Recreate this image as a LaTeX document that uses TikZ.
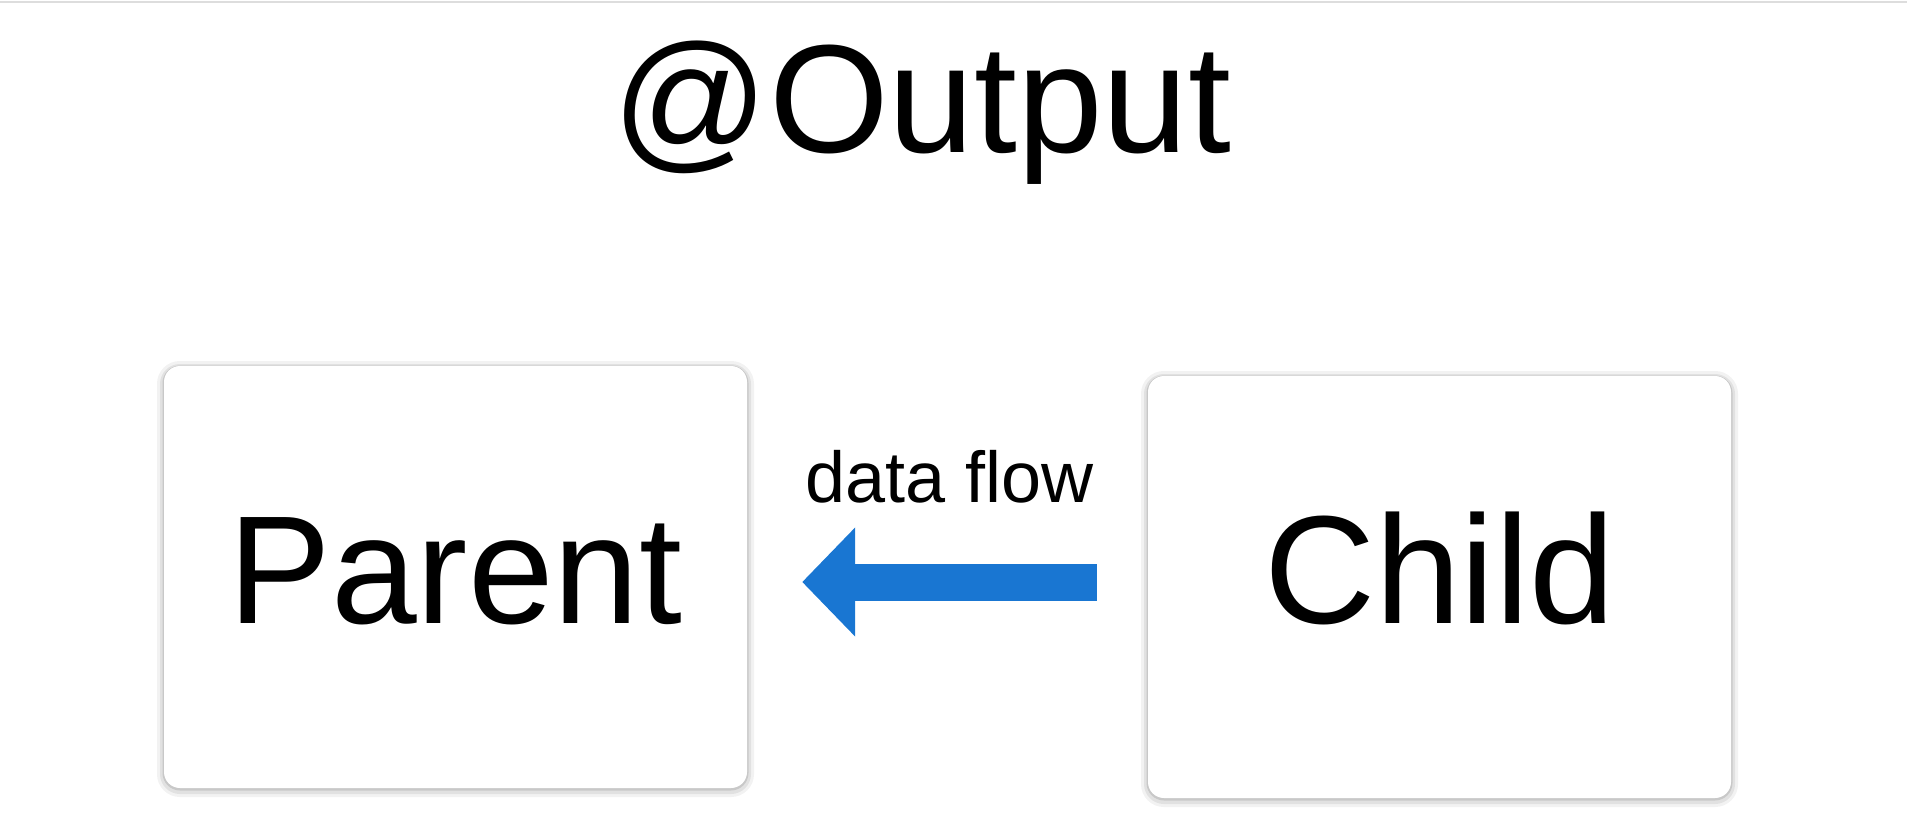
\documentclass[tikz,border=0pt]{standalone}
\usepackage{fontspec}
\setmainfont{Liberation Sans}
\usetikzlibrary{arrows.meta,positioning}
\definecolor{flowBlue}{HTML}{1976D2}
\definecolor{edgeGray}{HTML}{DDDDDD}

\begin{document}
\begin{tikzpicture}[
    x=1pt, y=-1pt,
    box/.style={fill=white, rounded corners=16pt, minimum width=583pt, minimum height=422pt, inner sep=0pt,
        font=\fontsize{154}{160}\selectfont, text depth=0pt,
        preaction={draw=black, opacity=0.05, line width=14pt, transform canvas={yshift=-2pt}},
        preaction={draw=black, opacity=0.07, line width=8pt, transform canvas={yshift=-2pt}},
        preaction={draw=black, opacity=0.11, line width=3pt, transform canvas={yshift=-1pt}}},
    flow/.style={-{Triangle[length=53pt, width=106pt]}, line width=37pt, draw=flowBlue},
]
\useasboundingbox (0,0) rectangle (1907,830);

% ===== page edge =====
\draw[edgeGray, line width=1.5pt] (0,2) -- (1907,2);

% ===== title =====
\node[font=\fontsize{154}{160}\selectfont, anchor=base, inner sep=0pt] (title) at (922,152) {@Output};

% ===== components =====
\node[box, text height=92pt] (parent) at (455.5,577) {Parent};
\node[box, text height=72pt] (child) at (1439.5,587) {Child};

% ===== data flow, child -> parent =====
\draw[flow] ([shift={(-51,-5)}]child.west) -- ([shift={(55,5)}]parent.east)
    node[midway, above=60pt, inner sep=0pt, font=\fontsize{72}{76}\selectfont] (flowlabel) {data flow};

\end{tikzpicture}
\end{document}
